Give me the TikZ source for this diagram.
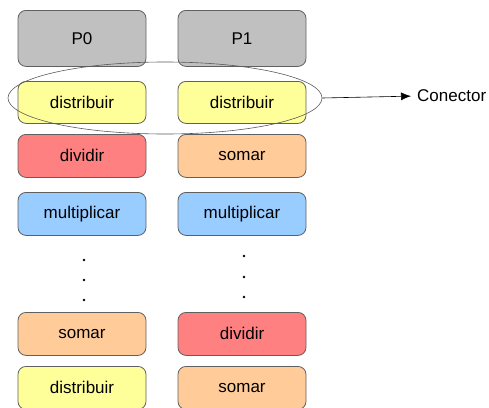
\documentclass[tikz,border=0pt]{standalone}
\usepackage{fontspec}
\setmainfont{Liberation Sans}
\usetikzlibrary{arrows.meta,shapes.geometric}
\definecolor{procgray}{HTML}{C0C0C0}
\definecolor{opyellow}{HTML}{FFFF99}
\definecolor{opred}{HTML}{FF8080}
\definecolor{oporange}{HTML}{FFCC99}
\definecolor{opblue}{HTML}{99CCFF}
\definecolor{edge}{HTML}{606060}
\begin{document}
\begin{tikzpicture}[x=1pt,y=-1pt,
  opbox/.style={draw=edge, line width=0.8pt, rounded corners=8pt, minimum width=128pt, anchor=north, inner sep=0pt, font=\fontsize{17}{20}\selectfont},
  dotmark/.style={circle, fill=black, inner sep=0pt, minimum size=2.6pt}]
\useasboundingbox (0,0) rectangle (489,407);
\begin{scope}
\clip (0,0) rectangle (489,407);
% column P0
\node[opbox, fill=procgray, minimum height=56pt] (p0) at (82,10) {P0};
\node[opbox, fill=opyellow, minimum height=42pt] (l1) at (82,81) {distribuir};
\node[opbox, fill=opred, minimum height=43pt] (l2) at (82,134) {dividir};
\node[opbox, fill=opblue, minimum height=43pt] (l3) at (82,192) {multiplicar};
\node[opbox, fill=oporange, minimum height=43pt] (l4) at (82,312) {somar};
\node[opbox, fill=opyellow, minimum height=43pt] (l5) at (82,366) {distribuir};
% column P1
\node[opbox, fill=procgray, minimum height=56pt] (p1) at (242,10) {P1};
\node[opbox, fill=opyellow, minimum height=42pt] (r1) at (242,81) {distribuir};
\node[opbox, fill=oporange, minimum height=43pt] (r2) at (242,134) {somar};
\node[opbox, fill=opblue, minimum height=43pt] (r3) at (242,192) {multiplicar};
\node[opbox, fill=opred, minimum height=43pt] (r4) at (242,312) {dividir};
\node[opbox, fill=oporange, minimum height=43pt] (r5) at (242,366) {somar};
\end{scope}
% ellipsis dots
\node[dotmark] (ld1) at (84,260) {};
\node[dotmark] (ld2) at (84,280) {};
\node[dotmark] (ld3) at (84,300) {};
\node[dotmark] (rd1) at (244,256) {};
\node[dotmark] (rd2) at (244,277) {};
\node[dotmark] (rd3) at (244,297) {};
% connector ellipse around the distribuir row
\node[draw=black!65, line width=0.6pt, ellipse, minimum width=314pt, minimum height=72pt, inner sep=0pt] (conn) at (165,98) {};
\node[font=\fontsize{17}{20}\selectfont, anchor=west, inner sep=0pt] (label) at (417,96) {Conector};
\draw[line width=0.6pt, -{Latex[length=10pt,width=8pt]}, shorten >=6pt] (conn.east) -- (label.west);
\end{tikzpicture}
\end{document}
